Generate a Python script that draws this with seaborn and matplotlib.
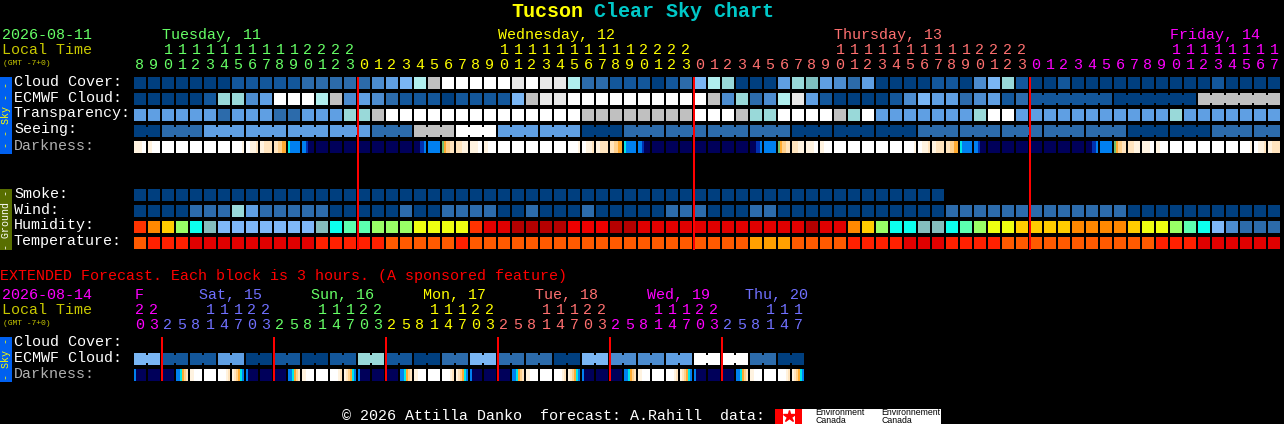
import numpy as np
import matplotlib
matplotlib.use("Agg")
import matplotlib.pyplot as plt
from matplotlib.colors import ListedColormap
from matplotlib.patches import Rectangle
import seaborn as sns

# block colours, one letter per level
palette = {
    # cloud / transparency / seeing scale
    "a": "#003F7F", "b": "#13579B", "c": "#2C6BAB", "d": "#4C8CCF", "e": "#5F9FE3", "f": "#7AB6F4",
    "g": "#B0EEEE", "h": "#99D9D9", "i": "#7FBFBF", "j": "#C0C0C0", "k": "#E8E8E8", "l": "#FFFFFF",
    # humidity / temperature
    "m": "#FF3300", "n": "#FF8800", "o": "#FFCC00", "p": "#99FF66", "q": "#0CFFEE", "r": "#84BEBE",
    "s": "#7FB8F8", "t": "#5CFFB0", "u": "#EEFF11", "v": "#E00000", "w": "#B50000", "x": "#EE0000",
    "y": "#FF5A00", "z": "#FF2000", "A": "#FFA000",
    # darkness
    "0": "#FFFFFF", "1": "#FFF3E0", "2": "#FFE4BE", "3": "#FFD08C", "4": "#FFAA30",
    "5": "#70C070", "6": "#00E8E8", "7": "#0080F0", "8": "#0030B0", "9": "#00005A",
}
codes = list(palette)

hours = [8, 9, 10, 11, 12, 13, 14, 15, 16, 17, 18, 19, 20, 21, 22, 23,
         0, 1, 2, 3, 4, 5, 6, 7, 8, 9, 10, 11, 12, 13, 14, 15, 16, 17, 18, 19, 20, 21, 22, 23,
         0, 1, 2, 3, 4, 5, 6, 7, 8, 9, 10, 11, 12, 13, 14, 15, 16, 17, 18, 19, 20, 21, 22, 23,
         0, 1, 2, 3, 4, 5, 6, 7, 8, 9, 10, 11, 12, 13, 14, 15, 16, 17]
ext_hours = [20, 23,
             2, 5, 8, 11, 14, 17, 20, 23,
             2, 5, 8, 11, 14, 17, 20, 23,
             2, 5, 8, 11, 14, 17, 20, 23,
             2, 5, 8, 11, 14, 17, 20, 23,
             2, 5, 8, 11, 14, 17, 20, 23,
             2, 5, 8, 11, 14, 17]

day_colors = ["#66FF66", "#FFFF00", "#FF7070", "#FF00FF"]
ext_day_colors = ["#FF00FF", "#7070FF", "#66FF66", "#FFFF00", "#FF7070", "#FF00FF", "#7070FF"]
day_labels = ["Tuesday, 11", "Wednesday, 12", "Thursday, 13", "Friday, 14"]
ext_day_labels = ["F", "Sat, 15", "Sun, 16", "Mon, 17", "Tue, 18", "Wed, 19", "Thu, 20"]
ext_day_left = [135, 199, 311, 423, 535, 647, 745]

sky_labels = ["Cloud Cover:", "ECMWF Cloud:", "Transparency:", "Seeing:", "Darkness:"]
ground_labels = ["Smoke:", "Wind:", "Humidity:", "Temperature:"]
ext_labels = ["Cloud Cover:", "ECMWF Cloud:", "Darkness:"]

cloud_cover = ("aaaaaaabbb" "bbcccccdef" "gjlllllklk" "kgccbbbabc" "fghaaaehie"
               "dceaaaabba" "dfhbaabaaa" "aaaaaaabaa" "aa")
ecmwf = ("aaaaabhhde" "lllgjdedcb" "bbabbbbfjk" "klllllllll" "ljdhcdgkeb"
         "aaaabdfeec" "debc" "baj")
ecmwf_spans = [1] * 64 + [6, 6, 6]
transparency = ("eeeeeeceee" "cceeehhjll" "llllllllll" "lljjjjjjjj" "llljhhllll"
                "jhleeeeeee" "hlleeeeeee" "eeeeheeeee" "ee")
seeing = "aceeeecjleeaccccaaacccccaacc"
seeing_spans = [2] + [3] * 26 + [2]
darkness = [
    "111100", "110000", "000000", "000000", "000000", "000000", "000000", "000001",
    "001112", "112222", "223344", "677777", "778999", "999999", "999999", "999999",
    "999999", "999999", "999999", "999999", "999887", "777777", "543322", "222111",
    "111100", "110000", "000000", "000000", "000000", "000000", "000000", "000001",
    "001112", "112222", "223344", "677777", "778999", "999999", "999999", "999999",
    "999999", "999999", "999999", "999999", "999887", "777777", "543322", "222111",
    "111100", "110000", "000000", "000000", "000000", "000000", "000000", "000001",
    "001112", "112222", "223344", "677777", "778999", "999999", "999999", "999999",
    "999999", "999999", "999999", "999999", "999887", "777777", "543322", "222111",
    "111100", "110000", "000000", "000000", "000000", "000000", "000000", "000001",
    "001112", "112222",
]

smoke = ("aaaaaaaaaa" "aaaaaaaaaa" "aaaaaaaaaa" "aaaaaaaaaa" "aaaaaaaaaa" "aaaaaaaa")
wind = ("aaaaccchec" "ccccaaaaac" "aaccccaaca" "aacaaaaacc" "caaaccaaaa"
        "aaaaaaaacc" "cccccccccc" "caaaaaaaaa" "aa")
humidity = ("mnopqrssss" "sssrqttppp" "uuuumvvwww" "wxxxwwvvvv" "vvvvvvvvwv"
            "vnopqqrrqt" "puuoooonnn" "nouuptqsdc" "cc")
temperature = ("yzzzvvvvvv" "vvvzzzzzyy" "yyyzyyyyyy" "yyyyyyyyyy" "yyyyAAAyyy"
               "yzzzzvvvzz" "zzyyyyyyyy" "yyyzzzvvvv" "vv")

ext_ecmwf = "fbbeababhbacfccafddellca"
ext_darkness = [
    "799999", "999999", "999999", "776432", "110000", "000000", "000012", "123467",
    "799999", "999999", "999999", "776432", "110000", "000000", "000012", "123467",
    "799999", "999999", "999999", "776432", "110000", "000000", "000012", "123467",
    "799999", "999999", "999999", "776432", "110000", "000000", "000012", "123467",
    "799999", "999999", "999999", "776432", "110000", "000000", "000012", "123467",
    "799999", "999999", "999999", "776432", "110000", "000000", "000012", "123467",
]

W, H = 1284, 424
SUB_X, SUB_Y = 7, 8   # a block is 7x8 cells of 2 px, the last ones stay empty


def put_row(canvas, r, values, spans=None):
    # values: one letter per block or per joined span of blocks
    spans = spans or [1] * len(values)
    y0, y1 = r * SUB_Y, r * SUB_Y + 6
    col = 0
    for v, n in zip(values, spans):
        canvas[y0:y1, col * SUB_X:(col + n) * SUB_X - 1] = codes.index(v)
        for k in range(1, n):
            canvas[y0, (col + k) * SUB_X - 1] = np.nan
            canvas[y1 - 1, (col + k) * SUB_X - 1] = np.nan
        col += n


def put_gradient_row(canvas, r, cells):
    y0, y1 = r * SUB_Y, r * SUB_Y + 6
    for col, cell in enumerate(cells):
        for k, v in enumerate(cell):
            canvas[y0:y1, col * SUB_X + k] = codes.index(v)


def panel(canvas, left, top, z):
    h, w = canvas.shape
    ax = fig.add_axes([left / W, 1 - (top + h * 2) / H, w * 2 / W, h * 2 / H], zorder=z)
    sns.heatmap(canvas, ax=ax, cmap=cmap, vmin=-0.5, vmax=len(codes) - 0.5, cbar=False,
                xticklabels=False, yticklabels=False)
    ax.patch.set_visible(False)
    return ax


sns.set_theme(style="dark")
plt.rcParams["font.family"] = ["Liberation Mono", "DejaVu Sans Mono"]
plt.rcParams["figure.facecolor"] = "black"
cmap = ListedColormap([palette[c] for c in codes])

fig = plt.figure(figsize=(W / 100, H / 100), dpi=100)
bg = fig.add_axes([0, 0, 1, 1], zorder=0)
bg.set_xlim(0, W)
bg.set_ylim(H, 0)
bg.axis("off")


def label(x, y, s, color="white", px=15, **kw):
    bg.text(x, y, s, color=color, fontsize=px * 0.72, va=kw.pop("va", "baseline"), **kw)


# block panels
sky = np.full((5 * SUB_Y, 82 * SUB_X), np.nan)
put_row(sky, 0, cloud_cover)
put_row(sky, 1, ecmwf, ecmwf_spans)
put_row(sky, 2, transparency)
put_row(sky, 3, seeing, seeing_spans)
put_gradient_row(sky, 4, darkness)
ax_sky = panel(sky, 134, 77, 5)

ground = np.full((4 * SUB_Y, 82 * SUB_X), np.nan)
put_row(ground, 0, smoke)
put_row(ground, 1, wind)
put_row(ground, 2, humidity)
put_row(ground, 3, temperature)
panel(ground, 134, 189, 4)

ext = np.full((3 * SUB_Y, 48 * SUB_X), np.nan)
put_row(ext, 1, ext_ecmwf, [2] * 24)
put_gradient_row(ext, 2, ext_darkness)
ax_ext = panel(ext, 134, 337, 5)

# midnight lines
midnights = [i for i in range(1, len(hours)) if hours[i] < hours[i - 1]]
ax_sky.vlines([i * SUB_X for i in midnights], 0, (250 - 77) / 2, color="#FF0000",
              linewidth=1.44, clip_on=False, snap=False)
ext_midnights = [i for i in range(1, len(ext_hours)) if ext_hours[i] < ext_hours[i - 1]]
ax_ext.vlines([i * SUB_X for i in ext_midnights], 0, (381 - 337) / 2, color="#FF0000",
              linewidth=1.44, clip_on=False, snap=False)

# title
label(511, 17, "Tucson", "#FFFF00", 20, fontweight="bold")
label(594, 17, "Clear Sky Chart", "#00C8C8", 20, fontweight="bold")

# top header
label(2, 39, "2026-08-11", day_colors[0])
label(2, 54, "Local Time", "#C8C800")
label(3, 65, "(GMT -7+0)", "#C8C800", 8)
day = 0
for i, hr in enumerate(hours):
    if i in midnights:
        day += 1
    x = 140 + 14 * i
    label(x, 69, str(hr % 10), day_colors[day], ha="center")
    if hr >= 10:
        label(x, 54, str(hr // 10), day_colors[day], ha="center")
for left, txt, col in zip([162, 498, 834, 1170], day_labels, day_colors):
    label(left, 39, txt, col)

# row names
for k, txt in enumerate(sky_labels):
    label(14, 85.5 + 16 * k, txt, "#B0B0B0" if txt == "Darkness:" else "white")
for k, txt in enumerate(ground_labels):
    label(14, 197.5 + 16 * k, txt)
for k, txt in enumerate(ext_labels):
    label(14, 345.5 + 16 * k, txt, "#B0B0B0" if txt == "Darkness:" else "white")

# side bars
for y0, y1, col, txtcol, txt in [(77, 154, "#0060F0", "#FFFF00", "- - Sky - -"),
                                 (189, 250, "#586E00", "white", "- Ground -"),
                                 (337, 382, "#0060F0", "#FFFF00", "- Sky -")]:
    bg.add_patch(Rectangle((0, y0), 12, y1 - y0, color=col, lw=0))
    label(6, (y0 + y1) / 2, txt, txtcol, 10, rotation=90, ha="center", va="center")

# extended block
label(0, 280, "EXTENDED Forecast. Each block is 3 hours. (A sponsored feature)", "#FF0000")
label(2, 299, "2026-08-14", ext_day_colors[0])
label(2, 314, "Local Time", "#C8C800")
label(3, 325, "(GMT -7+0)", "#C8C800", 8)
day = 0
for i, hr in enumerate(ext_hours):
    if i in ext_midnights:
        day += 1
    x = 140 + 14 * i
    label(x, 329, str(hr % 10), ext_day_colors[day], ha="center")
    if hr >= 10:
        label(x, 314, str(hr // 10), ext_day_colors[day], ha="center")
for left, txt, col in zip(ext_day_left, ext_day_labels, ext_day_colors):
    label(left, 299, txt, col)

# footer
label(342, 420, "\u00a9 2026 Attilla Danko  forecast: A.Rahill  data:")
bg.add_patch(Rectangle((775, 409), 166, 15, color="white", lw=0))
bg.add_patch(Rectangle((775, 409), 8, 15, color="#FF0000", lw=0))
bg.add_patch(Rectangle((795, 409), 7, 15, color="#FF0000", lw=0))
bg.plot([789], [416], marker="*", color="#FF0000", markersize=9, linestyle="none")
for left, word in [(815, "Environment"), (881, "Environnement")]:
    bg.text(left, 415, word, color="black", fontsize=6.3, family="Liberation Sans")
    bg.text(left, 423, "Canada", color="black", fontsize=6.3, family="Liberation Sans")

fig.savefig("out.png", dpi=100, facecolor="black")
